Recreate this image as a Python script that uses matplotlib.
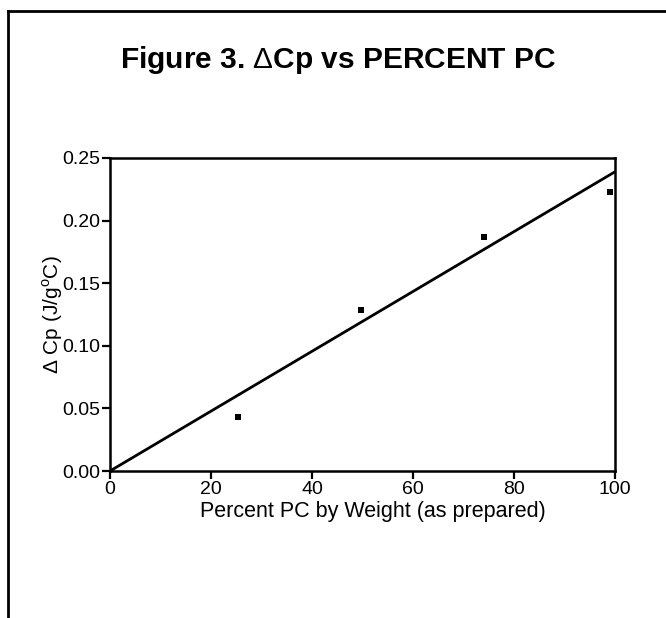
import matplotlib
matplotlib.use("Agg")
import matplotlib.pyplot as plt
from matplotlib.lines import Line2D

plt.rcParams['font.family'] = ['Liberation Sans', 'DejaVu Sans']
plt.rcParams['mathtext.fontset'] = 'custom'
plt.rcParams['mathtext.rm'] = 'Liberation Sans'

# measured points
percent_pc = [25.3, 49.8, 74.1, 99.1]
delta_cp = [0.043, 0.1285, 0.187, 0.2225]

# fitted line as drawn (end points)
fit_x = [0, 100]
fit_y = [0.0, 0.239]

x_ticks = [0, 20, 40, 60, 80, 100]
y_ticks = [0.00, 0.05, 0.10, 0.15, 0.20, 0.25]

W, H = 666, 618
fig = plt.figure(figsize=(W / 100, H / 100), dpi=100)
ax = fig.add_axes([110 / W, 1 - 471 / H, 505 / W, 313 / H])

ax.plot(fit_x, fit_y, color='black', lw=2.0, solid_capstyle='butt')
ax.plot(percent_pc, delta_cp, 's', color='black', ms=4.2, mew=0)

ax.set_xlim(0, 100)
ax.set_ylim(0, 0.25)
ax.set_xticks(x_ticks)
ax.set_yticks(y_ticks)
ax.set_yticklabels([f"{v:.2f}" for v in y_ticks])
ax.tick_params(direction='out', length=5.5, width=1.6, labelsize=14, pad=1.5)
for s in ax.spines.values():
    s.set_linewidth(1.8)

ax.set_xlabel("Percent PC by Weight (as prepared)", fontsize=15.5)
ax.xaxis.set_label_coords(0.521, -0.097)
ax.set_ylabel(r"$\Delta$ Cp (J/g$^{\mathregular{o}}$C)", fontsize=15)
ax.yaxis.set_label_coords(-0.09, 0.5)

fig.text(0.508, 1 - 68 / H, r"Figure 3. $\Delta$Cp vs PERCENT PC",
         ha='center', va='baseline', fontsize=21.5, fontweight='bold')

# outer frame (left and top edges visible)
fx = 8 / W
fy = 1 - 10.5 / H
fig.add_artist(Line2D([fx, fx], [0, fy], color='black', lw=2.0,
                      transform=fig.transFigure))
fig.add_artist(Line2D([fx, 1], [fy, fy], color='black', lw=2.0,
                      transform=fig.transFigure))

fig.savefig("out.png", dpi=100)
